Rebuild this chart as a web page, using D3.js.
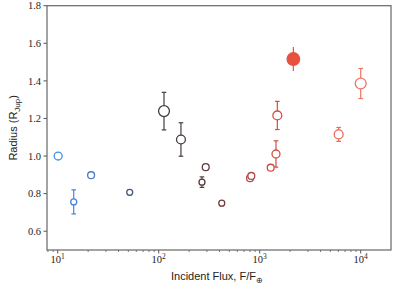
<!DOCTYPE html>
<html>
<head>
<meta charset="utf-8">
<script src="https://cdn.jsdelivr.net/npm/d3@7"></script>
<style>
	body { margin: 0; background: #fff; }
	svg { display: block; }
</style>
</head>
<body>
<div id="viz"></div>
<script>
// incident flux (F/F_earth), radius (R_Jup), 1-sigma radius error, mass (sets marker size)
const flux = [10.1, 14.4, 21.4, 51.6, 112.8, 166, 268, 292, 421, 802, 826, 1285, 1449, 1494, 2153, 6050, 10000];
const radius = [1.0, 0.756, 0.898, 0.807, 1.239, 1.088, 0.861, 0.941, 0.749, 0.882, 0.894, 0.938, 1.011, 1.216, 1.516, 1.115, 1.386];
const radiusErr = [0.012, 0.064, 0.01, 0.013, 0.1, 0.089, 0.028, 0.01, 0.013, 0.012, 0.012, 0.014, 0.07, 0.075, 0.064, 0.037, 0.08];
const mass = [1.6, 0.9, 1.2, 0.9, 3.0, 2.0, 0.9, 1.2, 0.9, 1.2, 1.2, 1.2, 1.6, 2.0, 4.0, 2.0, 3.0];
const highlighted = [false, false, false, false, false, false, false, false, false, false, false, false, false, false, true, false, false];

const yTicks = [0.6, 0.8, 1.0, 1.2, 1.4, 1.6, 1.8];
const xTicks = [10, 100, 1000, 10000];

const data = flux.map((f, i) => ({
	flux: f,
	radius: radius[i],
	err: radiusErr[i],
	mass: mass[i],
	filled: highlighted[i],
}));

const W = 399, H = 288;
const margin = { top: 5.7, right: 8, bottom: 38, left: 47 };

const svg = d3.select("#viz")
	.append("svg")
	.attr("width", W)
	.attr("height", H);

const x = d3.scaleLog().domain([7.83, 19950]).range([margin.left, W - margin.right]);
const y = d3.scaleLinear().domain([0.5, 1.8]).range([H - margin.bottom, margin.top]);
const r = d3.scaleSqrt().domain([0, 4]).range([0, 6.3]);

// blue (cool) -> dark -> red (hot)
const color = d3.scaleLog()
	.domain([10, 22, 100, 250, 420, 800, 2100, 10000])
	.range(["#3a8ff2", "#4a7ac8", "#404040", "#4e3b3b", "#7a3a3a", "#b04848", "#e8503e", "#ec7565"])
	.interpolate(d3.interpolateRgb)
	.clamp(true);

const x0 = margin.left, x1 = W - margin.right;
const y0 = H - margin.bottom, y1 = margin.top;

// y axis ticks
const yAxis = svg.append("g").attr("font-family", "'Liberation Serif', serif").attr("font-size", 10.5);
yAxis.selectAll("line")
	.data(yTicks)
	.join("line")
	.attr("x1", x0 - 3.5)
	.attr("x2", x0)
	.attr("y1", (d) => y(d))
	.attr("y2", (d) => y(d))
	.attr("stroke", "#555")
	.attr("stroke-width", 1);
yAxis.selectAll("text")
	.data(yTicks)
	.join("text")
	.attr("x", x0 - 6)
	.attr("y", (d) => y(d))
	.attr("dy", "0.35em")
	.attr("text-anchor", "end")
	.attr("fill", "#222")
	.text((d) => d.toFixed(1));

// x axis: major + minor ticks
const minor = [];
for (let e = 0; e <= 4; e++) {
	for (let m = 2; m <= 9; m++) {
		const v = m * Math.pow(10, e);
		if (v >= x.domain()[0] && v <= x.domain()[1]) minor.push(v);
	}
}
const xAxis = svg.append("g").attr("font-family", "'Liberation Serif', serif").attr("font-size", 10.5);
xAxis.selectAll("line.minor")
	.data(minor)
	.join("line")
	.attr("class", "minor")
	.attr("x1", (d) => x(d))
	.attr("x2", (d) => x(d))
	.attr("y1", y0)
	.attr("y2", y0 + 2)
	.attr("stroke", "#555")
	.attr("stroke-width", 0.8);
xAxis.selectAll("line.major")
	.data(xTicks)
	.join("line")
	.attr("class", "major")
	.attr("x1", (d) => x(d))
	.attr("x2", (d) => x(d))
	.attr("y1", y0)
	.attr("y2", y0 + 3.5)
	.attr("stroke", "#555")
	.attr("stroke-width", 1);
const xl = xAxis.selectAll("text")
	.data(xTicks)
	.join("text")
	.attr("x", (d) => x(d))
	.attr("y", y0 + 13)
	.attr("text-anchor", "middle")
	.attr("fill", "#222");
xl.append("tspan").text("10");
xl.append("tspan")
	.attr("dy", -4.5)
	.attr("font-size", 7.5)
	.text((d) => Math.round(Math.log10(d)));

// spines
svg.append("rect")
	.attr("x", x0)
	.attr("y", y1)
	.attr("width", x1 - x0)
	.attr("height", y0 - y1)
	.attr("fill", "none")
	.attr("stroke", "#666")
	.attr("stroke-width", 1.2);

// error bars
const eb = svg.append("g");
eb.selectAll("line.bar")
	.data(data)
	.join("line")
	.attr("class", "bar")
	.attr("x1", (d) => x(d.flux))
	.attr("x2", (d) => x(d.flux))
	.attr("y1", (d) => y(d.radius - d.err))
	.attr("y2", (d) => y(d.radius + d.err))
	.attr("stroke", (d) => color(d.flux))
	.attr("stroke-width", 1.2);
const caps = data.filter((d) => !d.filled).flatMap((d) => [
	{ ...d, v: d.radius - d.err },
	{ ...d, v: d.radius + d.err },
]);
eb.selectAll("line.cap")
	.data(caps)
	.join("line")
	.attr("class", "cap")
	.attr("x1", (d) => x(d.flux) - 2.3)
	.attr("x2", (d) => x(d.flux) + 2.3)
	.attr("y1", (d) => y(d.v))
	.attr("y2", (d) => y(d.v))
	.attr("stroke", (d) => color(d.flux))
	.attr("stroke-width", 1.2);

// markers
svg.append("g")
	.selectAll("circle")
	.data(data)
	.join("circle")
	.attr("cx", (d) => x(d.flux))
	.attr("cy", (d) => y(d.radius))
	.attr("r", (d) => r(d.mass))
	.attr("fill", (d) => (d.filled ? color(d.flux) : "#fff"))
	.attr("stroke", (d) => color(d.flux))
	.attr("stroke-width", 1.3);

// axis labels
const xlab = svg.append("text")
	.attr("x", 217)
	.attr("y", 279.5)
	.attr("text-anchor", "middle")
	.attr("font-family", "'Liberation Sans', sans-serif")
	.attr("font-size", 11)
	.attr("fill", "#222");
xlab.append("tspan").text("Incident Flux, F/F");
xlab.append("tspan").attr("dy", 3).attr("font-size", 8).text("⊕");

const ylab = svg.append("text")
	.attr("transform", `translate(17, ${(y0 + y1) / 2}) rotate(-90)`)
	.attr("text-anchor", "middle")
	.attr("font-family", "'Liberation Sans', sans-serif")
	.attr("font-size", 11)
	.attr("fill", "#222");
ylab.append("tspan").text("Radius (R");
ylab.append("tspan").attr("dy", 2.5).attr("font-size", 8).text("Jup");
ylab.append("tspan").attr("dy", -2.5).text(")");
</script>
</body>
</html>
